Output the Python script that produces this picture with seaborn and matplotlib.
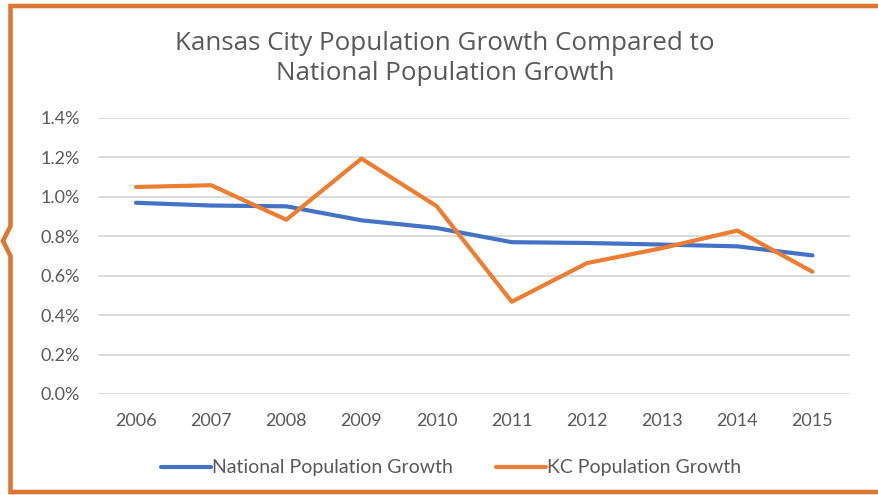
import matplotlib
matplotlib.use("Agg")
import matplotlib.pyplot as plt
import seaborn as sns
import pandas as pd
from matplotlib.ticker import FuncFormatter

years = ["2006", "2007", "2008", "2009", "2010", "2011", "2012", "2013", "2014", "2015"]
national_growth = [0.97, 0.956, 0.952, 0.881, 0.842, 0.770, 0.766, 0.758, 0.749, 0.703]
kc_growth = [1.05, 1.059, 0.884, 1.194, 0.953, 0.468, 0.664, 0.740, 0.829, 0.620]
series_names = ["National Population Growth", "KC Population Growth"]
y_ticks = [0.0, 0.2, 0.4, 0.6, 0.8, 1.0, 1.2, 1.4]

df = pd.concat([
    pd.DataFrame({"Year": years, "Growth": national_growth, "Series": series_names[0]}),
    pd.DataFrame({"Year": years, "Growth": kc_growth, "Series": series_names[1]}),
])

sns.set_theme(style="white")
plt.rcParams["font.family"] = ["Lato", "DejaVu Sans"]

W, H = 879, 495
fig = plt.figure(figsize=(W / 100, H / 100), dpi=100)
fig.patch.set_facecolor("white")

ax = fig.add_axes([98.4 / W, 1 - 394 / H, (850 - 98.4) / W, (394 - 118) / H])
sns.lineplot(data=df, x="Year", y="Growth", hue="Series",
             palette={series_names[0]: "#4472C4", series_names[1]: "#ED7D31"},
             linewidth=3.0, ax=ax, sort=False)

ax.set_xlim(-0.5, len(years) - 0.5)
ax.set_ylim(0, 1.4)
ax.set_yticks(y_ticks)
ax.yaxis.set_major_formatter(FuncFormatter(lambda v, _: f"{v:.1f}%"))
ax.grid(axis="y", color="#D9D9D9", linewidth=1.3)
ax.set_axisbelow(True)
for s in ax.spines.values():
    s.set_visible(False)
ax.set_xlabel("")
ax.set_ylabel("")
ax.tick_params(axis="both", length=0, labelsize=13, colors="#595959")
ax.tick_params(axis="y", pad=13)
ax.tick_params(axis="x", pad=14)

handles, labels = ax.get_legend_handles_labels()
ax.legend(handles, labels, loc="center", bbox_to_anchor=(451 / W, 1 - 468 / H),
          bbox_transform=fig.transFigure, ncol=2, frameon=False,
          fontsize=14, labelcolor="#595959", handlelength=2.6, handletextpad=0.05,
          columnspacing=2.2)

title_font = ["Open Sans", "DejaVu Sans"]
fig.text(445 / W, 1 - 44 / H, "Kansas City Population Growth Compared to",
         ha="center", va="center", fontsize=18.7, color="#595959", family=title_font)
fig.text(445 / W, 1 - 73 / H, "National Population Growth",
         ha="center", va="center", fontsize=18.7, color="#595959", family=title_font)

# decorative frame with a notch on the left edge
frame = fig.add_axes([0, 0, 1, 1], facecolor="none")
frame.set_xlim(0, W)
frame.set_ylim(H, 0)
frame.axis("off")
border = "#DB7634"
frame.plot([W, 10.5, 10.5, 3, 10.5, 10.5, W], [6, 6, 226, 241, 256, 492, 492],
           color=border, linewidth=3.3, solid_joinstyle="miter")

fig.savefig("out.png", dpi=100)
